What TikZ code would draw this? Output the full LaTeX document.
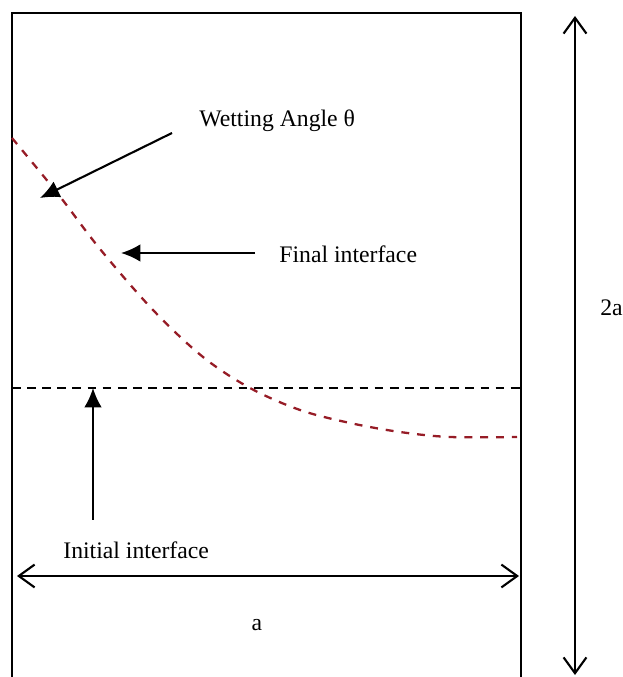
\documentclass[tikz,border=0pt]{standalone}
\usepackage{fontspec}
\setmainfont{Liberation Serif}
\usepackage{xcolor}
\usepackage{tikz}
\usetikzlibrary{arrows.meta,positioning,calc}
\definecolor{wetred}{RGB}{150,28,38}

\begin{document}
\begin{tikzpicture}[>=latex,
   lbl/.style={font=\fontsize{13.5}{15}\selectfont,inner sep=0pt},
   ptr/.style={-{Latex[length=11pt,width=10pt]},line width=1.2pt},
   dim/.style={{Straight Barb[length=9pt,width=13pt]}-{Straight Barb[length=9pt,width=13pt]},line width=1.2pt}]
  \useasboundingbox (0,0) rectangle (12.44,13.54);
  % container, open at the bottom
  \draw[line width=1.4pt] (0.24,0) -- (0.24,13.28) -- (10.42,13.28) -- (10.42,0);
  % interfaces
  \draw[dashed,line width=1.3pt,dash pattern=on 5pt off 3.6pt] (0.24,5.78) -- (10.42,5.78);
  \draw[wetred,line width=1.3pt,dash pattern=on 4.5pt off 4.5pt] plot[smooth,tension=0.55] coordinates
    {(0.24,10.78) (1.16,9.66) (2.00,8.56) (3.06,7.34) (4.06,6.40) (5.00,5.78)
     (6.00,5.34) (7.00,5.08) (8.00,4.90) (9.00,4.80) (10.34,4.80)};
  % labels
  \node[lbl,anchor=west] (wet) at (3.98,11.12) {Wetting Angle θ};
  \node[lbl,anchor=west] (fin) at (5.58,8.46) {Final interface};
  \node[lbl,anchor=west] (init) at (1.26,2.54) {Initial interface};
  \node[lbl] (la) at (5.14,1.04) {a};
  \node[lbl,anchor=west] (l2a) at (12.0,7.38) {2a};
  % arrow ends
  \coordinate (wS) at (3.44,10.88); \coordinate (wT) at (0.80,9.58);
  \coordinate (fS) at (5.10,8.48);  \coordinate (fT) at (2.42,8.48);
  \coordinate (iS) at (1.86,3.14);  \coordinate (iT) at (1.86,5.78);
  \coordinate (aL) at (0.34,2.02);  \coordinate (aR) at (10.38,2.02);
  \coordinate (hT) at (11.5,13.22); \coordinate (hB) at (11.5,0.04);
  \draw[ptr] (wS) -- (wT);
  \draw[ptr] (fS) -- (fT);
  \draw[ptr] (iS) -- (iT);
  \draw[dim] (aL) -- (aR);
  \draw[dim] (hT) -- (hB);
\end{tikzpicture}
\end{document}
